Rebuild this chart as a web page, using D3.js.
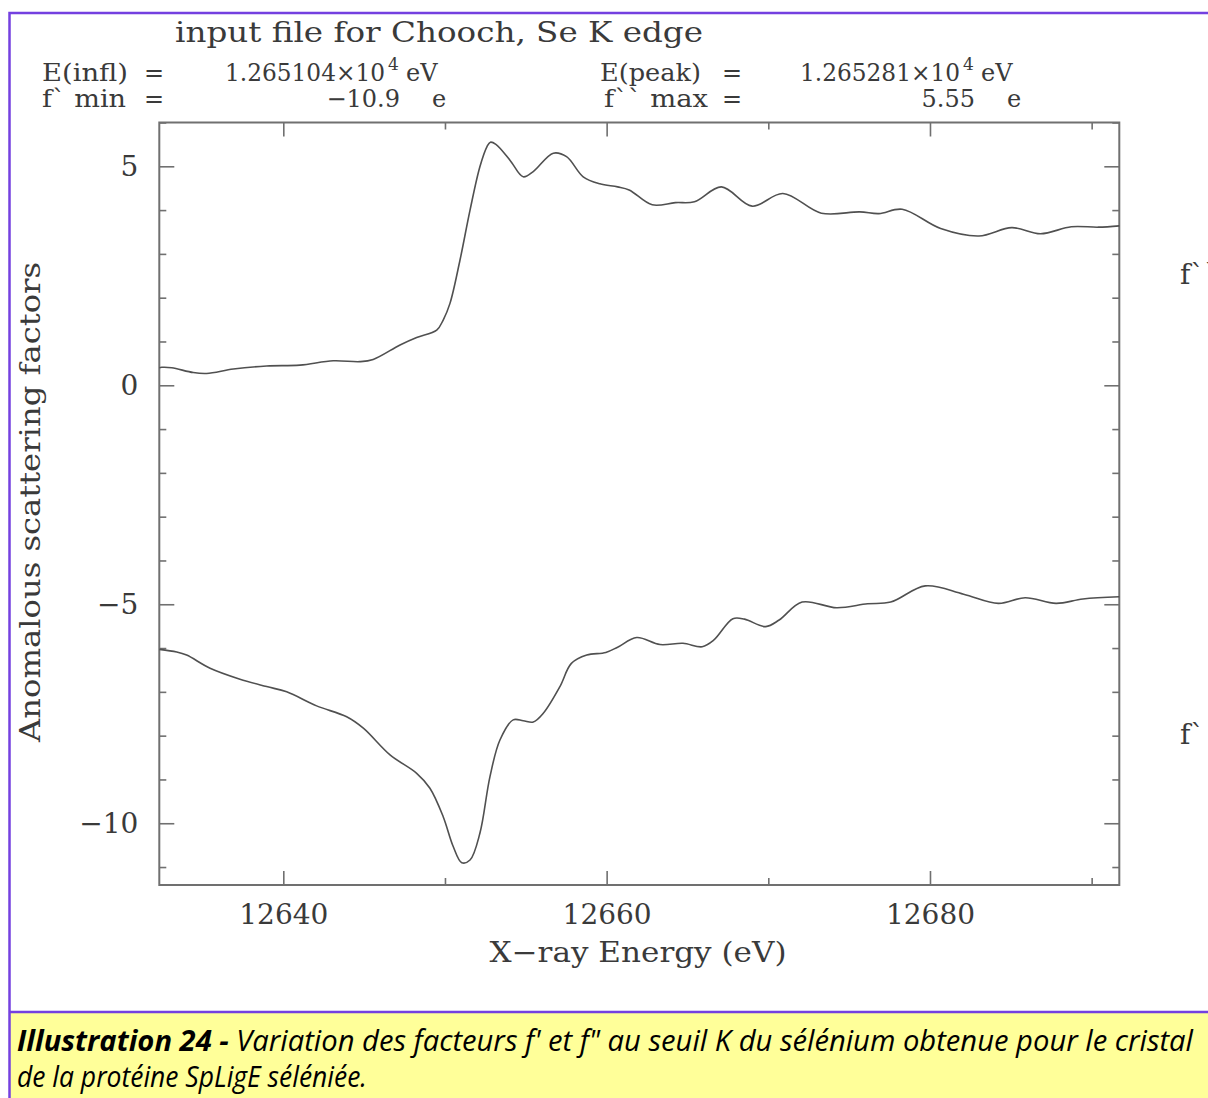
<!DOCTYPE html>
<html>
<head>
<meta charset="utf-8">
<script src="https://cdn.jsdelivr.net/npm/d3@7"></script>
<style>
  body { margin: 0; background: #fff; }
  svg { display: block; }
</style>
</head>
<body>
<svg id="chart" width="1208" height="1098"></svg>
<script>
// f'' (upper trace): energy (eV) and value (electrons)
const fppEnergy = [12632.33, 12632.48, 12633.10, 12634.43, 12635.26, 12636.91, 12638.97, 12641.03,
  12643.09, 12644.74, 12645.56, 12647.22, 12648.25, 12649.49, 12649.89, 12650.31, 12650.93,
  12651.55, 12652.16, 12652.60, 12652.81, 12653.15, 12654.02, 12654.84, 12655.46, 12656.70,
  12657.52, 12658.55, 12659.58, 12660.68, 12661.39, 12662.82, 12664.25, 12665.43, 12667.10,
  12669.00, 12670.90, 12673.28, 12675.66, 12676.84, 12678.28, 12680.66, 12683.03, 12685.06,
  12686.84, 12688.74, 12690.41, 12691.71];
const fppValue = [0.40, 0.41, 0.40, 0.29, 0.27, 0.37, 0.44, 0.46,
  0.56, 0.54, 0.59, 0.92, 1.09, 1.26, 1.49, 1.87, 2.86,
  4.00, 4.99, 5.45, 5.55, 5.50, 5.14, 4.76, 4.88, 5.30,
  5.22, 4.76, 4.60, 4.53, 4.46, 4.12, 4.17, 4.19, 4.53,
  4.09, 4.38, 3.93, 3.96, 3.92, 4.02, 3.58, 3.41, 3.60,
  3.46, 3.62, 3.61, 3.64];

// f' (lower trace)
const fpEnergy = [12632.33, 12633.41, 12634.02, 12635.47, 12637.32, 12638.97, 12640.21, 12642.06,
  12643.92, 12644.95, 12646.60, 12648.25, 12649.07, 12649.89, 12650.51, 12651.04, 12651.55,
  12652.16, 12652.78, 12653.40, 12654.22, 12654.84, 12655.46, 12656.08, 12657.11, 12657.82,
  12658.77, 12659.95, 12660.68, 12661.86, 12663.30, 12664.72, 12665.91, 12666.62, 12667.81,
  12668.53, 12669.84, 12670.67, 12672.09, 12674.23, 12676.14, 12677.57, 12679.71, 12682.08,
  12684.23, 12685.89, 12687.80, 12689.46, 12691.71];
const fpValue = [-6.03, -6.09, -6.16, -6.46, -6.71, -6.88, -7.00, -7.32,
  -7.57, -7.83, -8.44, -8.86, -9.20, -9.85, -10.53, -10.90, -10.84,
  -10.23, -8.94, -8.10, -7.64, -7.66, -7.69, -7.49, -6.88, -6.35,
  -6.16, -6.10, -5.98, -5.76, -5.92, -5.89, -5.97, -5.82, -5.33,
  -5.34, -5.51, -5.36, -4.95, -5.08, -4.99, -4.95, -4.58, -4.77,
  -4.98, -4.85, -4.98, -4.88, -4.83];

// Axis ticks
const xMajorTicks = [12640, 12660, 12680];
const xMinorTicks = [12650, 12670, 12690];
const yMajorTicks = [-10, -5, 0, 5];
const yMinorTicks = [-11, -9, -8, -7, -6, -4, -3, -2, -1, 1, 2, 3, 4, 6];

// Text content
const plotTitle = "input file for Chooch, Se K edge";
const xTitle = "X\u2212ray Energy (eV)";
const yTitle = "Anomalous scattering factors";
const seriesLabels = ["f``", "f`"];
const captionBold = "Illustration 24  - ";
const captionLine1 = "Variation des facteurs f' et f\" au seuil K du sélénium obtenue pour le cristal";
const captionLine2 = "de la protéine SpLigE séléniée.";

const svg = d3.select("#chart");
const serif = "'DejaVu Serif', 'Liberation Serif', serif";
const ink = "#3a3a3a";
const axisInk = "#707070";
const frameColor = "#7440e0";

const plot = { left: 159.3, right: 1119.3, top: 122.5, bottom: 885 };
const x = d3.scaleLinear().domain([12632.33, 12691.71]).range([plot.left, plot.right]);
const y = d3.scaleLinear().domain([-11.41, 6.0]).range([plot.bottom, plot.top]);

// page frame and caption band
svg.append("rect").attr("x", 10).attr("y", 1012).attr("width", 1198).attr("height", 86)
  .attr("fill", "#ffff99");
svg.append("path")
  .attr("d", "M9.5,1098 V13 H1208 M9.5,1012 H1208")
  .attr("fill", "none").attr("stroke", frameColor).attr("stroke-width", 2.5);

// header block
const head = svg.append("g").attr("font-family", serif).attr("fill", ink);
head.append("text").attr("x", 175).attr("y", 42).attr("font-size", 28)
  .attr("textLength", 528).attr("lengthAdjust", "spacingAndGlyphs").text(plotTitle);

function headerItem(tx, ty, str, opts = {}) {
  const t = head.append("text").attr("x", tx).attr("y", ty)
    .attr("font-size", opts.size || 24).text(str);
  if (opts.anchor) t.attr("text-anchor", opts.anchor);
  if (opts.len) t.attr("textLength", opts.len).attr("lengthAdjust", "spacingAndGlyphs");
  return t;
}
headerItem(42, 81, "E(infl)", { len: 86 });
headerItem(144, 81, "=");
headerItem(225, 81, "1.265104\u00d710", { len: 160 });
headerItem(388, 70, "4", { size: 17 });
headerItem(406, 81, "eV");
headerItem(600, 81, "E(peak)", { len: 101 });
headerItem(722, 81, "=");
headerItem(800, 81, "1.265281\u00d710", { len: 160 });
headerItem(963, 70, "4", { size: 17 });
headerItem(981, 81, "eV");

headerItem(42, 107, "f` min", { len: 84 });
headerItem(144, 107, "=");
headerItem(400, 107, "\u221210.9", { anchor: "end" });
headerItem(432, 107, "e");
headerItem(604, 107, "f`` max", { len: 104 });
headerItem(722, 107, "=");
headerItem(975, 107, "5.55", { anchor: "end" });
headerItem(1007, 107, "e");

// axes: ticks point inward on all four sides
const fmt = d3.format("d");
function styleAxis(g) {
  g.select(".domain").remove();
  g.selectAll("line").attr("stroke", axisInk).attr("stroke-width", 1.6);
  g.selectAll("text").attr("font-family", serif).attr("font-size", 28).attr("fill", ink);
}
svg.append("g").attr("transform", `translate(0,${plot.bottom})`)
  .call(d3.axisBottom(x).tickValues(xMajorTicks).tickSizeInner(-14).tickSizeOuter(0)
    .tickPadding(19).tickFormat(fmt)).call(styleAxis);
svg.append("g").attr("transform", `translate(0,${plot.bottom})`)
  .call(d3.axisBottom(x).tickValues(xMinorTicks).tickSizeInner(-7).tickSizeOuter(0)
    .tickFormat("")).call(styleAxis);
svg.append("g").attr("transform", `translate(0,${plot.top})`)
  .call(d3.axisTop(x).tickValues(xMajorTicks).tickSizeInner(-14).tickSizeOuter(0)
    .tickFormat("")).call(styleAxis);
svg.append("g").attr("transform", `translate(0,${plot.top})`)
  .call(d3.axisTop(x).tickValues(xMinorTicks).tickSizeInner(-7).tickSizeOuter(0)
    .tickFormat("")).call(styleAxis);
svg.append("g").attr("transform", `translate(${plot.left},0)`)
  .call(d3.axisLeft(y).tickValues(yMajorTicks).tickSizeInner(-15).tickSizeOuter(0)
    .tickPadding(21).tickFormat(fmt)).call(styleAxis);
svg.append("g").attr("transform", `translate(${plot.left},0)`)
  .call(d3.axisLeft(y).tickValues(yMinorTicks).tickSizeInner(-7).tickSizeOuter(0)
    .tickFormat("")).call(styleAxis);
svg.append("g").attr("transform", `translate(${plot.right},0)`)
  .call(d3.axisRight(y).tickValues(yMajorTicks).tickSizeInner(-15).tickSizeOuter(0)
    .tickFormat("")).call(styleAxis);
svg.append("g").attr("transform", `translate(${plot.right},0)`)
  .call(d3.axisRight(y).tickValues(yMinorTicks).tickSizeInner(-7).tickSizeOuter(0)
    .tickFormat("")).call(styleAxis);

svg.append("rect")
  .attr("x", plot.left).attr("y", plot.top)
  .attr("width", plot.right - plot.left).attr("height", plot.bottom - plot.top)
  .attr("fill", "none").attr("stroke", axisInk).attr("stroke-width", 2);

// traces
const line = d3.line().x(d => x(d[0])).y(d => y(d[1])).curve(d3.curveCatmullRom.alpha(0.5));
const traces = [d3.zip(fppEnergy, fppValue), d3.zip(fpEnergy, fpValue)];
svg.append("g").selectAll("path").data(traces).join("path")
  .attr("d", line).attr("fill", "none").attr("stroke", "#505050").attr("stroke-width", 1.6);

// axis titles
svg.append("text").attr("x", 638).attr("y", 962).attr("text-anchor", "middle")
  .attr("font-family", serif).attr("font-size", 28).attr("fill", ink)
  .attr("textLength", 297).attr("lengthAdjust", "spacingAndGlyphs").text(xTitle);
svg.append("text").attr("transform", "translate(40,502) rotate(-90)").attr("text-anchor", "middle")
  .attr("font-family", serif).attr("font-size", 27).attr("fill", ink)
  .attr("textLength", 480).attr("lengthAdjust", "spacingAndGlyphs").text(yTitle);

// series labels at the right margin (the f`` label runs off the page edge)
svg.append("g").attr("font-family", serif).attr("font-size", 28).attr("fill", ink)
  .selectAll("text").data(seriesLabels).join("text")
  .attr("x", 1180).attr("y", (d, i) => [284, 744][i]).text(d => d);

// caption
const cap = svg.append("g").attr("font-family", "'Open Sans', 'Noto Sans', sans-serif")
  .attr("font-style", "italic").attr("font-size", 29).attr("fill", "#000");
const l1 = cap.append("text").attr("x", 17).attr("y", 1051)
  .attr("textLength", 1176).attr("lengthAdjust", "spacingAndGlyphs");
l1.append("tspan").attr("font-weight", "bold").text(captionBold);
l1.append("tspan").text(captionLine1);
cap.append("text").attr("x", 17).attr("y", 1087)
  .attr("textLength", 350).attr("lengthAdjust", "spacingAndGlyphs").text(captionLine2);
</script>
</body>
</html>
